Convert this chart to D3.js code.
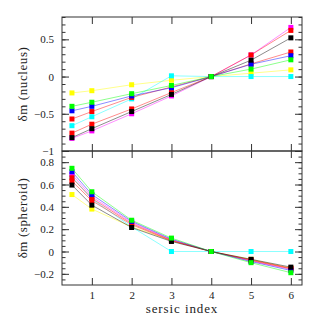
<!DOCTYPE html>
<html>
<head>
<meta charset="utf-8">
<script src="https://cdn.jsdelivr.net/npm/d3@7"></script>
<style>
  body { margin: 0; background: #fff; }
  text { font-family: "Liberation Serif", "DejaVu Serif", serif; fill: #222; }
</style>
</head>
<body>
<div id="chart"></div>
<script>
const sersic = [0.5, 1, 2, 3, 4, 5, 6];

const seriesNames = ['yellow', 'cyan', 'magenta', 'redB', 'redA', 'blue', 'black', 'green'];
const seriesColors = ['#ffff00', '#00ffff', '#ff00ff', '#ff0000', '#ff0000', '#0000ff', '#000000', '#00ff00'];

// delta m (nucleus), same order as seriesNames
const nucleus = [
    [-0.22, -0.19, -0.11, -0.05, 0, 0.045, 0.09],
    [-0.66, -0.54, -0.30, 0.01, 0, 0, 0],
    [-0.83, -0.73, -0.50, -0.26, 0, 0.29, 0.66],
    [-0.76, -0.64, -0.435, -0.215, 0, 0.29, 0.62],
    [-0.57, -0.47, -0.28, -0.14, 0, 0.17, 0.33],
    [-0.46, -0.40, -0.26, -0.15, 0, 0.165, 0.28],
    [-0.82, -0.70, -0.47, -0.24, 0, 0.22, 0.52],
    [-0.40, -0.345, -0.23, -0.12, 0, 0.10, 0.225]
];

// delta m (spheroid)
const spheroid = [
    [0.51, 0.38, 0.22, 0.10, 0, -0.07, -0.15],
    [0.67, 0.47, 0.22, 0, 0, 0, 0],
    [0.69, 0.49, 0.26, 0.105, 0, -0.085, -0.16],
    [0.63, 0.455, 0.24, 0.095, 0, -0.075, -0.15],
    [0.66, 0.475, 0.25, 0.10, 0, -0.08, -0.155],
    [0.715, 0.51, 0.27, 0.11, 0, -0.09, -0.17],
    [0.595, 0.415, 0.215, 0.09, 0, -0.07, -0.14],
    [0.745, 0.535, 0.28, 0.12, 0, -0.10, -0.19]
];

const xTicks = [1, 2, 3, 4, 5, 6];
const nucleusTicks = [-1, -0.5, 0, 0.5];
const spheroidTicks = [-0.2, 0, 0.2, 0.4, 0.6, 0.8];

const W = 319, H = 319;
const left = 62, right = 302;
const panels = [
    { top: 17, bottom: 151, domain: [-1, 0.8], ticks: nucleusTicks, minorStep: 0.1, data: nucleus, label: 'δm (nucleus)', xlabels: false },
    { top: 151, bottom: 285, domain: [-0.3, 0.9], ticks: spheroidTicks, minorStep: 0.05, data: spheroid, label: 'δm (spheroid)', xlabels: true }
];

const svg = d3.select('#chart').append('svg')
    .attr('width', W)
    .attr('height', H);

const x = d3.scaleLinear().domain([0.25, 6.28]).range([left, right]);

const fmt = d => (d < 0 ? '\u2212' : '') + Math.abs(d);

panels.forEach(p => {
    const y = d3.scaleLinear().domain(p.domain).range([p.bottom, p.top]);
    const minor = d3.range(Math.ceil(p.domain[0] / p.minorStep), Math.floor(p.domain[1] / p.minorStep) + 1)
        .map(i => +(i * p.minorStep).toFixed(3));

    const g = svg.append('g');

    // lines
    const line = d3.line().x((d, i) => x(sersic[i])).y(d => y(d));
    p.data.forEach((vals, s) => {
        g.append('path')
            .attr('d', line(vals))
            .attr('fill', 'none')
            .attr('stroke', seriesColors[s])
            .attr('stroke-opacity', 0.45)
            .attr('stroke-width', 1);
    });
    // markers
    p.data.forEach((vals, s) => {
        g.selectAll(null)
            .data(vals)
            .enter()
            .append('rect')
            .attr('x', (d, i) => x(sersic[i]) - 2.5)
            .attr('y', d => y(d) - 2.5)
            .attr('width', 5)
            .attr('height', 5)
            .attr('fill', seriesColors[s]);
    });

    // minor y ticks
    g.append('g').attr('transform', `translate(${left},0)`)
        .call(d3.axisLeft(y).tickValues(minor).tickSize(-3.5).tickFormat(''));
    g.append('g').attr('transform', `translate(${right},0)`)
        .call(d3.axisRight(y).tickValues(minor).tickSize(-3.5).tickFormat(''));

    // major y ticks
    g.append('g').attr('class', 'ylab').attr('transform', `translate(${left},0)`)
        .call(d3.axisLeft(y).tickValues(p.ticks).tickSize(-7).tickPadding(8).tickFormat(fmt));
    g.append('g').attr('transform', `translate(${right},0)`)
        .call(d3.axisRight(y).tickValues(p.ticks).tickSize(-7).tickFormat(''));

    // x ticks
    g.append('g').attr('transform', `translate(0,${p.top})`)
        .call(d3.axisTop(x).tickValues(xTicks).tickSize(-7).tickFormat(''));
    g.append('g').attr('transform', `translate(0,${p.bottom})`)
        .call(d3.axisBottom(x).tickValues(xTicks).tickSize(-7).tickPadding(6)
            .tickFormat(p.xlabels ? d3.format('d') : ''));

    g.selectAll('.domain').remove();
    g.selectAll('.tick line').attr('stroke', '#333');
    g.selectAll('.tick text').attr('font-size', 11).style('font-family', '"Liberation Serif", "DejaVu Serif", serif').attr('fill', '#222');

    // frame
    g.append('rect')
        .attr('x', left).attr('y', p.top)
        .attr('width', right - left).attr('height', p.bottom - p.top)
        .attr('fill', 'none').attr('stroke', '#333').attr('stroke-width', 1);

    svg.append('text')
        .attr('transform', `translate(22,${(p.top + p.bottom) / 2}) rotate(-90)`)
        .attr('text-anchor', 'middle')
        .attr('dy', '0.35em')
        .attr('font-size', 13)
        .attr('letter-spacing', 0.6)
        .text(p.label);
});

svg.append('text')
    .attr('x', (left + right) / 2)
    .attr('y', 313)
    .attr('text-anchor', 'middle')
    .attr('font-size', 13)
    .attr('letter-spacing', 0.9)
    .text('sersic index');
</script>
</body>
</html>
